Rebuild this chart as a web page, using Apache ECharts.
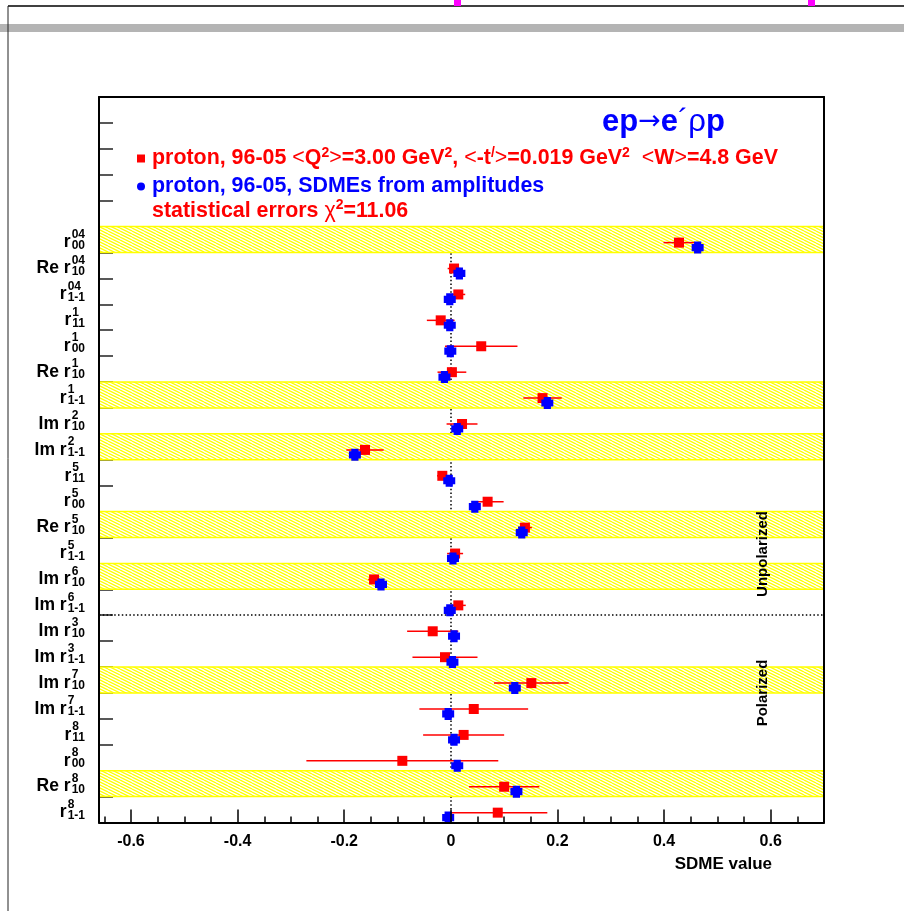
<!DOCTYPE html>
<html>
<head>
<meta charset="utf-8">
<title>SDME</title>
<script src="https://cdn.jsdelivr.net/npm/echarts@6.0.0/dist/echarts.min.js"></script>
<style>
  html, body { margin: 0; padding: 0; background: #fff; }
  #main { width: 904px; height: 911px; }
</style>
</head>
<body>
<div id="main"></div>
<script>
  const FONT = '"Liberation Sans", Arial, Helvetica, sans-serif';

  // SDME names (top to bottom): prefix, superscript, subscript
  const rowPrefix = ['', 'Re ', '', '', '', 'Re ', '', 'Im ', 'Im ', '', '', 'Re ', '', 'Im ', 'Im ',
    'Im ', 'Im ', 'Im ', 'Im ', '', '', 'Re ', ''];
  const rowSup = ['04', '04', '04', '1', '1', '1', '1', '2', '2', '5', '5', '5', '5', '6', '6',
    '3', '3', '7', '7', '8', '8', '8', '8'];
  const rowSub = ['00', '10', '1-1', '11', '00', '10', '1-1', '10', '1-1', '11', '00', '10', '1-1', '10', '1-1',
    '10', '1-1', '10', '1-1', '11', '00', '10', '1-1'];
  // rows with the yellow band
  const bandRows = [0, 6, 8, 11, 13, 17, 21];

  // proton, 96-05 (red) with statistical errors
  const redValues = [0.428, 0.006, 0.014, -0.019, 0.057, 0.002, 0.172, 0.021, -0.161, -0.016, 0.069, 0.139,
    0.008, -0.144, 0.014, -0.034, -0.011, 0.151, 0.043, 0.024, -0.091, 0.100, 0.088];
  const redErrors = [0.029, 0.012, 0.013, 0.026, 0.068, 0.027, 0.036, 0.029, 0.035, 0.010, 0.030, 0.013,
    0.015, 0.011, 0.014, 0.048, 0.061, 0.070, 0.102, 0.076, 0.180, 0.066, 0.093];
  // SDMEs from amplitudes (blue)
  const blueValues = [0.463, 0.016, -0.002, -0.002, -0.001, -0.012, 0.181, 0.012, -0.180, -0.003, 0.045, 0.133,
    0.004, -0.131, -0.002, 0.006, 0.003, 0.120, -0.005, 0.006, 0.012, 0.123, -0.005];

  const xMajorTicks = [-0.6, -0.4, -0.2, 0, 0.2, 0.4, 0.6];
  const xMin = -0.66, xMax = 0.70;

  const headRows = 5;                          // empty slots above first SDME
  const totalRows = headRows + rowSup.length;  // 28
  const splitRow = 15;                         // unpolarized / polarized boundary

  const xMinorTicks = [];
  for (let k = -13; k <= 13; k++) xMinorTicks.push(+(k * 0.05).toFixed(2));
  const yTicks = [];
  for (let k = 1; k < totalRows; k++) yTicks.push(k);

  const redName = 'proton, 96-05';
  const blueName = 'SDMEs from amplitudes';

  // rich styles for y labels, superscript starts where the subscript starts
  const ctx = document.createElement('canvas').getContext('2d');
  ctx.font = 'bold 12px ' + FONT;
  const labelRich = {
    m: { fontFamily: FONT, fontWeight: 'bold', fontSize: 17.5, color: '#000', lineHeight: 14 }
  };
  rowSup.forEach(function (sup, i) {
    const wSup = ctx.measureText(sup).width;
    const wSub = ctx.measureText(rowSub[i]).width;
    labelRich['p' + i] = {
      fontFamily: FONT, fontWeight: 'bold', fontSize: 12, color: '#000', lineHeight: 2,
      align: 'right', padding: [0, Math.max(0, wSub - wSup), 0, 0]
    };
    labelRich['b' + i] = {
      fontFamily: FONT, fontWeight: 'bold', fontSize: 12, color: '#000', lineHeight: 14,
      padding: [6, Math.max(0, wSup - wSub), 0, 1]
    };
  });

  // yellow hatch for the bands
  const hatch = document.createElement('canvas');
  hatch.width = 12; hatch.height = 6;
  const hc = hatch.getContext('2d');
  hc.fillStyle = '#ffffff';
  hc.fillRect(0, 0, 12, 6);
  hc.strokeStyle = '#ffff00';
  hc.lineWidth = 1.3;
  for (let c = -9; c <= 9; c += 3) {
    hc.beginPath(); hc.moveTo(0, c); hc.lineTo(12, c + 6); hc.stroke();
  }

  const LEG = 21.4;
  const legendRich = {
    r: { fontFamily: FONT, fontWeight: 'bold', fontSize: LEG, color: '#ff0000', lineHeight: 26 },
    rn: { fontFamily: FONT, fontWeight: 'normal', fontSize: LEG, color: '#ff0000', lineHeight: 26 },
    rs: { fontFamily: FONT, fontWeight: 'bold', fontSize: 14, color: '#ff0000', lineHeight: 26, padding: [0, 0, 11, 0] },
    b: { fontFamily: FONT, fontWeight: 'bold', fontSize: LEG, color: '#0000ff', lineHeight: 26 }
  };
  const redLegend = '{r|proton, 96-05 }{rn|<}{r|Q}{rs|2}{rn|>}{r|=3.00 GeV}{rs|2}{r|, }{rn|<}{r|-t}{rs|/}{rn|>}' +
    '{r|=0.019 GeV}{rs|2}{r|  }{rn|<}{r|W}{rn|>}{r|=4.8 GeV}';
  const blueLegend = '{b|proton, 96-05, SDMEs from amplitudes}';

  const categories = [];
  for (let k = 0; k < totalRows; k++) categories.push('c' + k);

  const frameLine = { show: true, onZero: false, lineStyle: { color: '#000', width: 2 } };

  const option = {
    animation: false,
    backgroundColor: '#fff',
    title: {
      text: '{b|ep}{a|→}{b|e}{n|´}{n|ρ}{b|p}',
      left: 597, top: 100,
      textStyle: {
        rich: {
          b: { fontFamily: FONT, fontWeight: 'bold', fontSize: 31, color: '#0000ff', lineHeight: 34 },
          n: { fontFamily: FONT, fontWeight: 'normal', fontSize: 31, color: '#0000ff', lineHeight: 34 },
          a: { fontFamily: '"DejaVu Sans"', fontWeight: 'normal', fontSize: 27, color: '#0000ff', lineHeight: 34 }
        }
      }
    },
    legend: {
      orient: 'vertical', left: 137, top: 146, padding: 0,
      itemWidth: 8, itemHeight: 8, itemGap: 5,
      selectedMode: false,
      data: [{ name: redName, icon: 'rect' }, { name: blueName, icon: 'circle' }],
      formatter: function (name) { return name === redName ? redLegend : blueLegend; },
      textStyle: { rich: legendRich, padding: [0, 0, 0, 2] }
    },
    grid: { left: 99, right: 80, top: 97, bottom: 88.5, show: false },
    xAxis: [
      {
        type: 'value', min: xMin, max: xMax, position: 'bottom', z: 10,
        splitLine: { show: false },
        axisLine: frameLine,
        axisTick: { show: true, inside: true, length: 13, customValues: xMajorTicks, lineStyle: { color: '#000', width: 1.5 } },
        axisLabel: {
          customValues: xMajorTicks, margin: 11,
          fontFamily: FONT, fontWeight: 'bold', fontSize: 16, color: '#000',
          formatter: function (v) { return v === 0 ? '0' : String(v); }
        },
        name: 'SDME value', nameLocation: 'end', nameGap: -52,
        nameTextStyle: { fontFamily: FONT, fontWeight: 'bold', fontSize: 17, color: '#000',
          align: 'right', verticalAlign: 'top', padding: [33, 0, 0, 0] }
      },
      {
        type: 'value', min: xMin, max: xMax, position: 'bottom', z: 10,
        splitLine: { show: false }, axisLine: { show: false, onZero: false }, axisLabel: { show: false },
        axisTick: { show: true, inside: true, length: 6, customValues: xMinorTicks, lineStyle: { color: '#000', width: 1.5 } }
      },
      {
        type: 'value', min: xMin, max: xMax, position: 'top', z: 10,
        splitLine: { show: false }, axisLine: frameLine, axisTick: { show: false }, axisLabel: { show: false }
      }
    ],
    yAxis: [
      {
        type: 'value', min: 0, max: totalRows, inverse: true, position: 'left',
        splitLine: { show: false }, axisLine: { show: false, onZero: false }, axisLabel: { show: false },
        axisTick: { show: true, inside: true, length: 14, customValues: yTicks, lineStyle: { color: '#222', width: 1.5 } }
      },
      {
        type: 'category', data: categories, inverse: true, position: 'left', z: 10,
        axisLine: frameLine, axisTick: { show: false },
        axisLabel: {
          interval: 0, margin: 14, padding: [4, 0, 0, 0],
          formatter: function (value, index) {
            const i = index - headRows;
            if (i < 0) return '';
            return '{p' + i + '|' + rowSup[i] + '}\n{m|' + rowPrefix[i] + 'r}{b' + i + '|' + rowSub[i] + '}';
          },
          rich: labelRich
        }
      },
      {
        type: 'value', min: 0, max: totalRows, inverse: true, position: 'right', z: 10,
        splitLine: { show: false }, axisLine: frameLine, axisTick: { show: false }, axisLabel: { show: false }
      }
    ],
    graphic: [
      { type: 'rect', shape: { x: 0, y: 24, width: 904, height: 8 }, style: { fill: '#b4b4b4' }, silent: true },
      { type: 'line', shape: { x1: 8, y1: 6, x2: 904, y2: 6 }, style: { stroke: '#000', lineWidth: 1.5 }, silent: true },
      { type: 'line', shape: { x1: 8, y1: 6, x2: 8, y2: 911 }, style: { stroke: '#222', lineWidth: 1 }, silent: true },
      { type: 'rect', shape: { x: 454, y: 0, width: 7, height: 6 }, style: { fill: '#ff00ff' }, silent: true },
      { type: 'rect', shape: { x: 808, y: 0, width: 7, height: 6 }, style: { fill: '#ff00ff' }, silent: true },
      {
        type: 'text', x: 152, y: 211, z: 100, silent: true,
        style: {
          text: '{r|statistical errors }{g|χ}{s|2}{r|=11.06}',
          verticalAlign: 'middle',
          rich: {
            r: { fontFamily: FONT, fontWeight: 'bold', fontSize: LEG, fill: '#ff0000', lineHeight: 26 },
            g: { fontFamily: FONT, fontWeight: 'normal', fontSize: LEG, fill: '#ff0000', lineHeight: 26 },
            s: { fontFamily: FONT, fontWeight: 'bold', fontSize: 14, fill: '#ff0000', lineHeight: 26, padding: [0, 0, 11, 0] }
          }
        }
      },
      {
        type: 'text', x: 763, y: 554, rotation: Math.PI / 2, z: 100, silent: true,
        style: { text: 'Unpolarized', font: 'bold 15px ' + FONT, fill: '#000', align: 'center', verticalAlign: 'middle' }
      },
      {
        type: 'text', x: 763, y: 693, rotation: Math.PI / 2, z: 100, silent: true,
        style: { text: 'Polarized', font: 'bold 15px ' + FONT, fill: '#000', align: 'center', verticalAlign: 'middle' }
      }
    ],
    series: [
      {
        name: 'errors', type: 'custom', z: 4, silent: true,
        data: redValues.map(function (v, i) { return [v - redErrors[i], v + redErrors[i], headRows + i + 0.62]; }),
        encode: { x: [0, 1], y: 2 },
        renderItem: function (params, api) {
          const a = api.coord([api.value(0), api.value(2)]);
          const b = api.coord([api.value(1), api.value(2)]);
          return {
            type: 'line',
            shape: { x1: a[0], y1: a[1], x2: b[0], y2: b[1] },
            style: { stroke: '#ff0000', lineWidth: 1.5 }
          };
        }
      },
      {
        name: redName, type: 'scatter', z: 5, silent: true,
        symbol: 'rect', symbolSize: 10,
        itemStyle: { color: '#ff0000', opacity: 1 },
        data: redValues.map(function (v, i) { return [v, headRows + i + 0.62]; }),
        markLine: {
          z: 1, silent: true, symbol: 'none', label: { show: false },
          lineStyle: { color: '#000', width: 1.5, type: [1.5, 2.3] },
          data: [
            [{ coord: [0, headRows] }, { coord: [0, totalRows] }],
            { yAxis: headRows + splitRow }
          ]
        },
        markArea: {
          z: 2, silent: true,
          itemStyle: { color: { image: hatch, repeat: 'repeat' }, borderColor: '#ffff00', borderWidth: 1.5 },
          data: bandRows.map(function (r) { return [{ yAxis: headRows + r }, { yAxis: headRows + r + 1 }]; })
        }
      },
      {
        name: blueName, type: 'scatter', z: 6, silent: true,
        symbol: 'path://M2,0H8V2H10V8H8V10H2V8H0V2H2Z', symbolSize: 12,
        itemStyle: { color: '#0000ff', opacity: 1 },
        data: blueValues.map(function (v, i) { return [v, headRows + i + 0.81]; })
      }
    ]
  };

  const myChart = echarts.init(document.getElementById('main'));
  myChart.setOption(option);
</script>
</body>
</html>
